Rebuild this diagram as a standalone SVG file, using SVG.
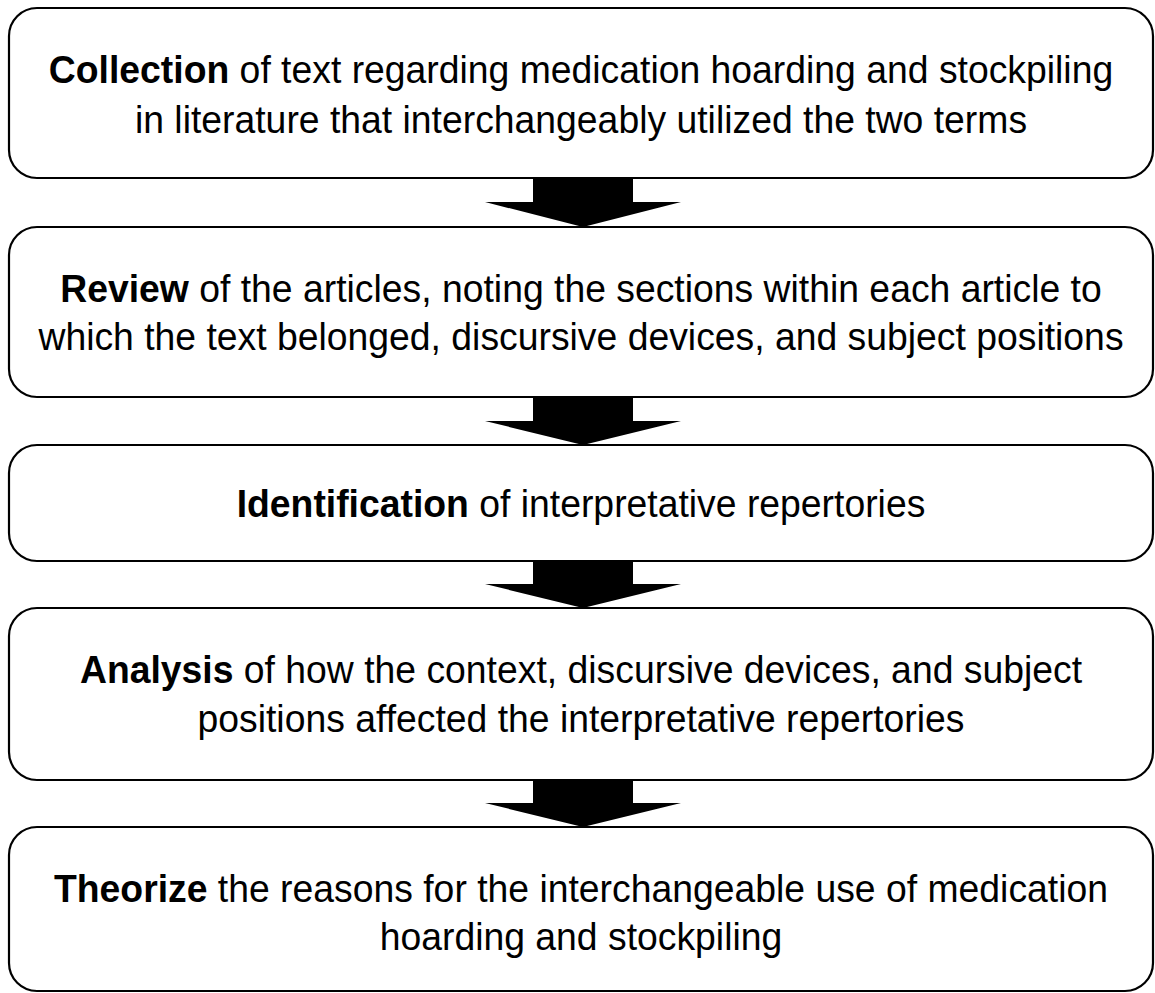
<svg xmlns="http://www.w3.org/2000/svg" width="1155" height="993" viewBox="0 0 1155 993">
  <style>
    .box { fill: #ffffff; stroke: #000000; stroke-width: 2.2; }
    .lbl { font-family: "Liberation Sans", Arial, Helvetica, sans-serif; font-size: 38.5px; fill: #000000; text-anchor: middle; }
    .b { font-weight: bold; }
    .arrow { fill: #000000; stroke: none; }
  </style>
  <rect x="0" y="0" width="1155" height="993" fill="#ffffff"/>

  <g id="connectors">
    <!-- block arrows between consecutive steps -->
    <polygon class="arrow" points="533,178 633,178 633,202 681,202 583,227 485,202 533,202"/>
    <polygon class="arrow" points="533,397 633,397 633,421 681,421 583,445 485,421 533,421"/>
    <polygon class="arrow" points="533,561 633,561 633,584 681,584 583,608 485,584 533,584"/>
    <polygon class="arrow" points="533,780 633,780 633,803 681,803 583,827 485,803 533,803"/>
  </g>

  <g id="step-collection">
    <rect class="box" x="9" y="8" width="1144" height="170" rx="28" ry="28"/>
    <g transform="translate(581,0) scale(0.97,1) translate(-581,0)">
      <text class="lbl" x="581" y="83"><tspan class="b">Collection</tspan> of text regarding medication hoarding and stockpiling</text>
      <text class="lbl" x="581" y="133">in literature that interchangeably utilized the two terms</text>
    </g>
  </g>

  <g id="step-review">
    <rect class="box" x="9" y="227" width="1144" height="170" rx="28" ry="28"/>
    <g transform="translate(581,0) scale(0.97,1) translate(-581,0)">
      <text class="lbl" x="581" y="302"><tspan class="b">Review</tspan> of the articles, noting the sections within each article to</text>
      <text class="lbl" x="581" y="350">which the text belonged, discursive devices, and subject positions</text>
    </g>
  </g>

  <g id="step-identification">
    <rect class="box" x="9" y="445" width="1144" height="116" rx="28" ry="28"/>
    <g transform="translate(581,0) scale(0.97,1) translate(-581,0)">
      <text class="lbl" x="581" y="517"><tspan class="b">Identification</tspan> of interpretative repertories</text>
    </g>
  </g>

  <g id="step-analysis">
    <rect class="box" x="9" y="608" width="1144" height="172" rx="28" ry="28"/>
    <g transform="translate(581,0) scale(0.97,1) translate(-581,0)">
      <text class="lbl" x="581" y="683"><tspan class="b">Analysis</tspan> of how the context, discursive devices, and subject</text>
      <text class="lbl" x="581" y="732">positions affected the interpretative repertories</text>
    </g>
  </g>

  <g id="step-theorize">
    <rect class="box" x="9" y="827" width="1144" height="164" rx="28" ry="28"/>
    <g transform="translate(581,0) scale(0.97,1) translate(-581,0)">
      <text class="lbl" x="581" y="902"><tspan class="b">Theorize</tspan> the reasons for the interchangeable use of medication</text>
      <text class="lbl" x="581" y="950">hoarding and stockpiling</text>
    </g>
  </g>
</svg>
